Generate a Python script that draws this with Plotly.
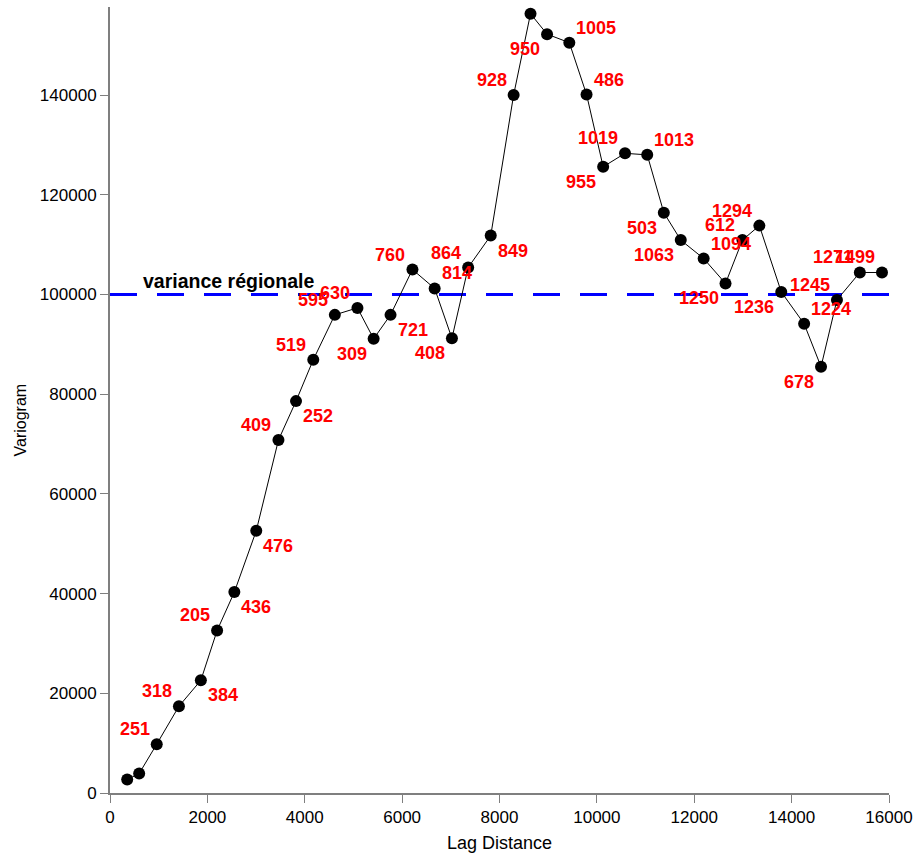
import plotly.graph_objects as go

# Experimental variogram: lag distance, semivariance and number of pairs per lag
lag_distance = [353, 599, 960, 1416, 1866, 2200, 2554, 3004, 3460, 3821,
                4175, 4618, 5082, 5415, 5762, 6212, 6668, 7023, 7356, 7820,
                8290, 8637, 8977, 9434, 9788, 10129, 10578, 11034, 11375, 11723,
                12193, 12642, 12990, 13337, 13787, 14257, 14604, 14931, 15401, 15856]
variogram = [2700, 3900, 9800, 17400, 22600, 32600, 40300, 52600, 70800, 78600,
             86900, 95900, 97300, 91100, 95900, 105000, 101200, 91200, 105400, 111800,
             140000, 156300, 152200, 150500, 140100, 125600, 128300, 128000, 116400, 110900,
             107200, 102200, 110900, 113800, 100500, 94100, 85500, 98900, 104400, 104400]
pairs = [None, None, 251, 318, 384, 205, 436, 476, 409, 252,
         519, 595, 630, 309, 721, 760, 814, 408, 864, 849,
         928, None, 950, 1005, 486, 955, 1019, 1013, 503, 1063,
         1094, 1250, 612, 1294, 1236, 1224, 678, 1245, 1271, 1499]

# Which side of its point each pair count is written on
label_side = [None, None, "ul", "ul", "lr", "ul", "lr", "lr", "ul", "lr",
              "ul", "ul", "ul", "ll", "lr", "ul", "ur", "ll", "ul", "lr",
              "ul", None, "ll", "ur", "ur", "ll", "ul", "ur", "ll", "ll",
              "ur", "ll", "ul", "ul", "ll", "ur", "ll", "ul", "ul", "ul"]

regional_variance = 100000
x_ticks = [0, 2000, 4000, 6000, 8000, 10000, 12000, 14000, 16000]
y_ticks = [0, 20000, 40000, 60000, 80000, 100000, 120000, 140000]

FONT = "Liberation Sans, Arial, sans-serif"
W, H = 920, 854
ML, MR, MT, MB = 110, 27, 7, 61

fig = go.Figure()

fig.add_trace(go.Scatter(
    x=lag_distance, y=variogram,
    mode="lines+markers",
    line=dict(color="black", width=1),
    marker=dict(color="black", size=12, symbol="circle"),
    showlegend=False,
    cliponaxis=False,
))

# Sill line
fig.add_shape(type="line", xref="paper", yref="y",
              x0=0, x1=1, y0=regional_variance, y1=regional_variance,
              line=dict(color="#0000FF", width=3, dash="27px,20px"),
              layer="below")

fig.add_annotation(x=0.04, xref="paper", y=regional_variance, yref="y",
                   text="<b>variance régionale</b>", showarrow=False,
                   xanchor="left", yanchor="middle", yshift=13,
                   font=dict(family=FONT, size=19.5, color="black"))

offsets = {"ul": ("right", -5, 15), "ur": ("left", 5, 15),
           "ll": ("right", -5, -15), "lr": ("left", 5, -15)}
for x, y, n, side in zip(lag_distance, variogram, pairs, label_side):
    if n is None:
        continue
    anchor, dx, dy = offsets[side]
    fig.add_annotation(x=x, y=y, text=f"<b>{n}</b>", showarrow=False,
                       xanchor=anchor, yanchor="middle", xshift=dx, yshift=dy,
                       font=dict(family=FONT, size=18, color="#FF0000"))

plot_h = H - MT - MB
plot_w = W - ML - MR
fig.add_annotation(xref="paper", yref="paper", x=0.5, y=(793 - 843) / plot_h,
                   text="Lag Distance", showarrow=False,
                   xanchor="center", yanchor="middle",
                   font=dict(family=FONT, size=18, color="black"))
fig.add_annotation(xref="paper", yref="paper", x=(20 - ML) / plot_w, y=(793 - 420) / plot_h,
                   text="Variogram", showarrow=False, textangle=-90,
                   xanchor="center", yanchor="middle",
                   font=dict(family=FONT, size=16, color="black"))

axis_common = dict(showgrid=False, zeroline=False, showline=True,
                   linecolor="#7f7f7f", linewidth=2,
                   ticks="outside", ticklen=8, tickwidth=1, tickcolor="#7f7f7f",
                   tickfont=dict(family=FONT, size=17, color="black"))

fig.update_xaxes(range=[0, 16000], tickvals=x_ticks,
                 ticktext=[str(v) for v in x_ticks], **axis_common)
fig.update_yaxes(range=[0, 157650], tickvals=y_ticks,
                 ticktext=[str(v) for v in y_ticks], **axis_common)

fig.update_layout(
    width=W, height=H,
    margin=dict(l=ML, r=MR, t=MT, b=MB),
    plot_bgcolor="white", paper_bgcolor="white",
    font=dict(family=FONT),
)

fig.write_html("out.html")
